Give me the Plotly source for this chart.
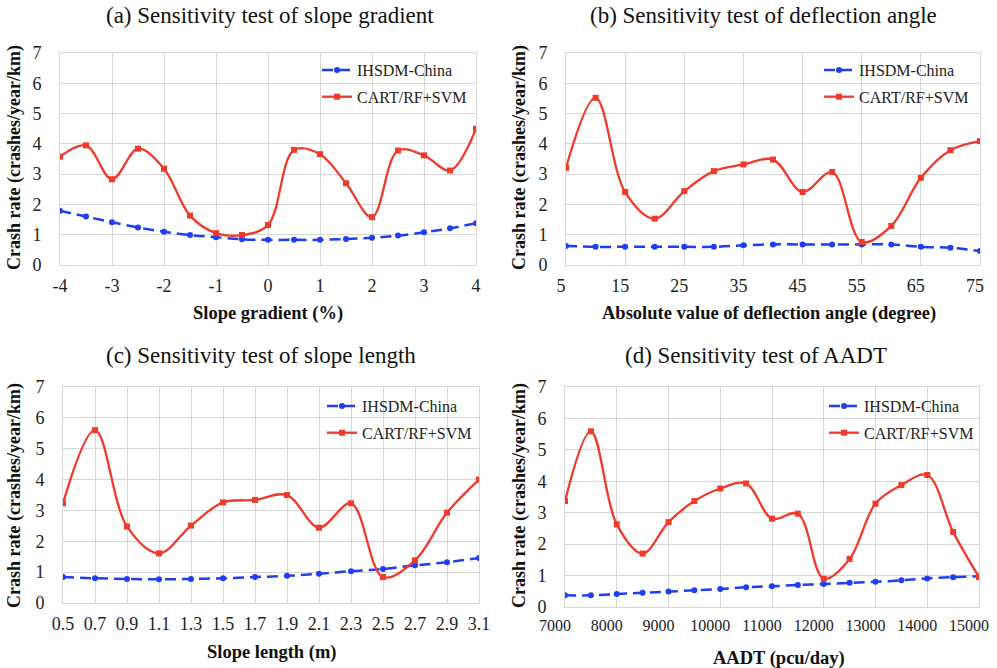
import plotly.graph_objects as go

W, H = 997, 668

# ---------------- data ----------------
grad_x = [-4, -3.5, -3, -2.5, -2, -1.5, -1, -0.5, 0, 0.5, 1, 1.5, 2, 2.5, 3, 3.5, 4]
grad_ihsdm = [1.79, 1.60, 1.41, 1.24, 1.10, 0.99, 0.92, 0.85, 0.83, 0.83, 0.83, 0.86, 0.90, 0.97, 1.08, 1.21, 1.38]
grad_cart = [3.58, 3.95, 2.83, 3.84, 3.18, 1.63, 1.05, 0.99, 1.32, 3.80, 3.66, 2.70, 1.58, 3.78, 3.62, 3.12, 4.50]
grad_ticks = [-4, -3, -2, -1, 0, 1, 2, 3, 4]
grad_ticklabels = ["-4", "-3", "-2", "-1", "0", "1", "2", "3", "4"]

angle_x = [5, 10, 15, 20, 25, 30, 35, 40, 45, 50, 55, 60, 65, 70, 75]
angle_ihsdm = [0.63, 0.60, 0.60, 0.60, 0.60, 0.60, 0.65, 0.68, 0.68, 0.68, 0.68, 0.68, 0.60, 0.57, 0.46]
angle_cart = [3.21, 5.52, 2.41, 1.53, 2.44, 3.10, 3.32, 3.48, 2.41, 3.07, 0.76, 1.29, 2.88, 3.79, 4.09]
angle_ticks = [5, 15, 25, 35, 45, 55, 65, 75]
angle_ticklabels = ["5", "15", "25", "35", "45", "55", "65", "75"]

length_x = [0.5, 0.7, 0.9, 1.1, 1.3, 1.5, 1.7, 1.9, 2.1, 2.3, 2.5, 2.7, 2.9, 3.1]
length_ihsdm = [0.84, 0.80, 0.78, 0.77, 0.78, 0.80, 0.84, 0.88, 0.95, 1.03, 1.10, 1.22, 1.32, 1.46]
length_cart = [3.23, 5.60, 2.48, 1.61, 2.51, 3.26, 3.34, 3.50, 2.44, 3.23, 0.84, 1.38, 2.93, 4.00]
length_ticks = [0.5, 0.7, 0.9, 1.1, 1.3, 1.5, 1.7, 1.9, 2.1, 2.3, 2.5, 2.7, 2.9, 3.1]
length_ticklabels = ["0.5", "0.7", "0.9", "1.1", "1.3", "1.5", "1.7", "1.9", "2.1", "2.3",
                     "2.5", "2.7", "2.9", "3.1"]

aadt_x = [7000, 7500, 8000, 8500, 9000, 9500, 10000, 10500, 11000, 11500, 12000,
          12500, 13000, 13500, 14000, 14500, 15000]
aadt_ihsdm = [0.37, 0.37, 0.41, 0.45, 0.49, 0.53, 0.57, 0.63, 0.66, 0.70, 0.73,
              0.77, 0.80, 0.85, 0.91, 0.95, 0.98]
aadt_cart = [3.37, 5.59, 2.63, 1.70, 2.70, 3.37, 3.77, 3.93, 2.81, 2.97, 0.90,
             1.53, 3.29, 3.88, 4.20, 2.39, 0.95]
aadt_ticks = [7000, 8000, 9000, 10000, 11000, 12000, 13000, 14000, 15000]
aadt_ticklabels = ["7000", "8000", "9000", "10000", "11000", "12000", "13000", "14000", "15000"]

y_ticks = [0, 1, 2, 3, 4, 5, 6, 7]
y_ticklabels = ["0", "1", "2", "3", "4", "5", "6", "7"]

titles = ["(a) Sensitivity test of slope gradient",
          "(b) Sensitivity test of deflection angle",
          "(c) Sensitivity test of slope length",
          "(d) Sensitivity test of AADT"]
xtitles = ["Slope gradient (%)",
           "Absolute value of deflection angle (degree)",
           "Slope length (m)",
           "AADT (pcu/day)"]
ytitle = "Crash rate (crashes/year/km)"
series_names = ["IHSDM-China", "CART/RF+SVM"]

# ---------------- layout geometry (pixels) ----------------
panels = [
    dict(x0=60, x1=476, y0=53, y1=265, xr=[-4, 4], tfs=18, shift=0,
         ticks=(grad_ticks, grad_ticklabels), data=(grad_x, grad_ihsdm, grad_cart),
         tx=270, ty=16, xtx=268, xty=313, ytx=14, yty=158, lx=317, ly=53),
    dict(x0=566, x1=980, y0=53, y1=265, xr=[5, 75], tfs=18, shift=-5,
         ticks=(angle_ticks, angle_ticklabels), data=(angle_x, angle_ihsdm, angle_cart),
         tx=763, ty=16, xtx=769, xty=313, ytx=519, yty=158, lx=819, ly=53),
    dict(x0=63, x1=479, y0=387, y1=603, xr=[0.5, 3.1], tfs=18, shift=0,
         ticks=(length_ticks, length_ticklabels), data=(length_x, length_ihsdm, length_cart),
         tx=261, ty=355, xtx=272, xty=652, ytx=14, yty=496, lx=322, ly=389),
    dict(x0=565, x1=979, y0=387, y1=607, xr=[7000, 15000], tfs=16, shift=-10,
         ticks=(aadt_ticks, aadt_ticklabels), data=(aadt_x, aadt_ihsdm, aadt_cart),
         tx=756, ty=355, xtx=779, xty=658, ytx=519, yty=496, lx=824, ly=389),
]

SERIF = "Liberation Serif, Times New Roman, serif"
BLUE = "#1d3ff0"
RED = "#f03a2c"
GRID = "#d6d6d6"

fig = go.Figure()
annotations = []
layout = {}

for i, p in enumerate(panels):
    n = "" if i == 0 else str(i + 1)
    xs, yb, yr = p["data"]
    lg = "legend" if i == 0 else f"legend{i + 1}"
    fig.add_trace(go.Scatter(
        x=xs, y=yb, name=series_names[0], mode="lines+markers",
        line=dict(color=BLUE, width=2.5, dash="11px,6px", shape="spline", smoothing=1.0),
        marker=dict(symbol="circle", size=6, color=BLUE),
        xaxis="x" + n, yaxis="y" + n, legend=lg, legendgroup=f"b{i}"))
    fig.add_trace(go.Scatter(
        x=xs, y=yr, name=series_names[1], mode="lines+markers",
        line=dict(color=RED, width=2.3, shape="spline", smoothing=1.0),
        marker=dict(symbol="square", size=6, color=RED),
        xaxis="x" + n, yaxis="y" + n, legend=lg, legendgroup=f"r{i}"))

    tv, tt = p["ticks"]
    layout["xaxis" + n] = dict(
        domain=[p["x0"] / W, p["x1"] / W], anchor="y" + n, automargin=False,
        range=p["xr"], tickmode="array", tickvals=tv, ticktext=tt,
        showgrid=True, gridcolor=GRID, gridwidth=1,
        showline=True, linecolor=GRID, mirror=True, zeroline=False,
        tickfont=dict(family=SERIF, size=p["tfs"], color="#222"),
        ticks="", ticklabelstandoff=4, ticklabelshift=p["shift"],
        ticklabeloverflow="allow")
    layout["yaxis" + n] = dict(
        domain=[1 - p["y1"] / H, 1 - p["y0"] / H], anchor="x" + n, automargin=False,
        range=[0, 7], tickmode="array", tickvals=y_ticks, ticktext=y_ticklabels,
        showgrid=True, gridcolor=GRID, gridwidth=1,
        showline=True, linecolor=GRID, mirror=True, zeroline=False,
        tickfont=dict(family=SERIF, size=18, color="#222"),
        ticks="", ticklabelstandoff=14)
    layout[lg] = dict(
        x=p["lx"] / W, y=1 - p["ly"] / H, xanchor="left", yanchor="top",
        bgcolor="rgba(0,0,0,0)", font=dict(family=SERIF, size=16, color="#222"),
        tracegroupgap=3, itemwidth=30)

    annotations.append(dict(text=titles[i], x=p["tx"] / W, y=1 - p["ty"] / H,
                            xref="paper", yref="paper", showarrow=False,
                            xanchor="center", yanchor="middle",
                            font=dict(family=SERIF, size=23, color="#111")))
    annotations.append(dict(text="<b>" + xtitles[i] + "</b>", x=p["xtx"] / W, y=1 - p["xty"] / H,
                            xref="paper", yref="paper", showarrow=False,
                            xanchor="center", yanchor="middle",
                            font=dict(family=SERIF, size=18.5, color="#111")))
    annotations.append(dict(text="<b>" + ytitle + "</b>", x=p["ytx"] / W, y=1 - p["yty"] / H,
                            xref="paper", yref="paper", showarrow=False, textangle=-90,
                            xanchor="center", yanchor="middle",
                            font=dict(family=SERIF, size=18, color="#111")))

fig.update_layout(
    width=W, height=H, margin=dict(l=0, r=0, t=0, b=0, autoexpand=False),
    paper_bgcolor="white", plot_bgcolor="white", template="none",
    annotations=annotations, **layout)

fig.write_html("out.html", config={"displayModeBar": False},
               post_script="document.body.style.margin='0';document.body.style.overflow='hidden';")
